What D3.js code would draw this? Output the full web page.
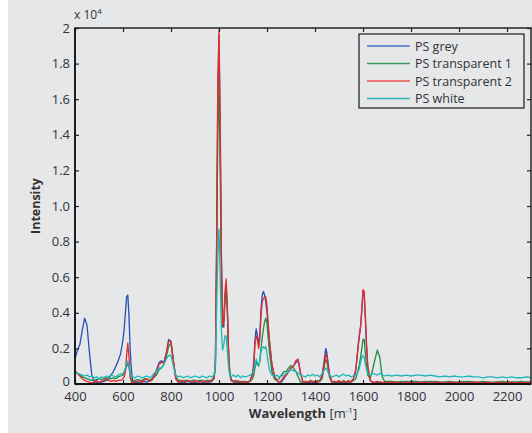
<!DOCTYPE html>
<html><head><meta charset="utf-8">
<script src="https://cdn.jsdelivr.net/npm/d3@7"></script>
<style>
html,body{margin:0;padding:0;background:#fff;}
svg{display:block;font-family:"Open Sans",sans-serif;}
</style></head><body>
<svg id="c" width="532" height="433"></svg>
<script>
// Wavenumber grid (shared by all series)
const wavenumbers = [
400,410,420,430,440,450,460,470,480,490,500,510,520,530,540,550,560,570,580,590,
600,605,610,615,620,625,630,635,640,
650,660,670,680,690,700,710,720,730,740,750,760,770,780,790,800,810,820,830,840,850,860,870,880,890,900,910,920,930,940,950,960,970,980,
985,990,995,1000,1005,1010,1015,1020,1025,1030,1035,1040,1045,1050,
1060,1070,1080,1090,1100,1110,1120,1130,1140,
1145,1150,1155,1160,1165,1170,1175,1180,1185,1190,1195,1200,1205,1210,
1220,1230,1240,1250,1260,1270,1280,1290,1300,1310,1320,1330,1340,1350,1360,1370,1380,1390,1400,1410,1420,1430,1440,1445,1450,1460,1470,1480,1490,1500,1510,1520,1530,1540,1550,1560,1570,
1580,1585,1590,1595,1600,1605,1610,1615,1620,
1630,1640,1650,1660,1670,1680,1690,1700,
1720,1740,1760,1780,1800,1820,1840,1860,1880,1900,1920,1940,1960,1980,2000,2020,2040,2060,2080,2100,2120,2140,2160,2180,2200,2220,2240,2260,2280,2300
];
// Intensities in units of 10^4
const psGrey = [
0.14,0.19,0.22,0.30,0.37,0.33,0.18,0.05,0.01,0.01,0.005,0.01,0.015,0.02,0.03,0.05,0.07,0.10,0.13,0.17,
0.25,0.31,0.40,0.49,0.50,0.38,0.19,0.08,0.02,
0.01,0.005,0.01,0.01,0.015,0.01,0.02,0.03,0.05,0.08,0.12,0.13,0.12,0.17,0.25,0.24,0.12,0.03,0.01,0.01,0.005,0.01,0.015,0.01,0.005,0.01,0.01,0.015,0.01,0.005,0.01,0.01,0.015,0.03,
0.12,0.75,1.62,1.96,1.42,0.72,0.34,0.32,0.49,0.55,0.40,0.17,0.06,0.03,
0.01,0.01,0.005,0.01,0.01,0.005,0.01,0.02,0.06,
0.13,0.25,0.31,0.27,0.22,0.28,0.42,0.50,0.52,0.50,0.46,0.40,0.32,0.24,
0.11,0.05,0.02,0.01,0.01,0.03,0.05,0.07,0.09,0.10,0.12,0.13,0.06,0.01,0.01,0.005,0.01,0.01,0.005,0.01,0.015,0.05,0.15,0.20,0.17,0.06,0.01,0.01,0.005,0.01,0.01,0.005,0.01,0.01,0.015,0.03,0.08,
0.21,0.27,0.32,0.41,0.52,0.50,0.36,0.20,0.09,
0.02,0.01,0.005,0.01,0.01,0.005,0.01,0.01,
0.01,0.005,0.01,0.015,0.01,0.005,0.01,0.01,0.015,0.01,0.005,0.01,0.01,0.005,0.01,0.01,0.015,0.01,0.005,0.01,0.01,0.005,0.01,0.01,0.005,0.01,0.01,0.005,0.01,0.01
];
const psTransparent1 = [
0.07,0.06,0.05,0.04,0.035,0.03,0.025,0.02,0.02,0.025,0.03,0.025,0.03,0.035,0.03,0.03,0.035,0.03,0.04,0.045,
0.05,0.06,0.08,0.10,0.12,0.09,0.05,0.02,0.015,
0.02,0.025,0.02,0.02,0.03,0.025,0.02,0.03,0.04,0.05,0.08,0.09,0.11,0.15,0.21,0.23,0.13,0.04,0.02,0.02,0.015,0.02,0.02,0.015,0.02,0.02,0.015,0.02,0.02,0.015,0.02,0.02,0.02,0.04,
0.10,0.65,1.40,1.70,1.20,0.60,0.32,0.36,0.48,0.52,0.40,0.17,0.06,0.02,
0.015,0.02,0.01,0.015,0.01,0.015,0.01,0.015,0.03,
0.05,0.09,0.12,0.11,0.10,0.13,0.20,0.26,0.31,0.35,0.37,0.34,0.26,0.18,
0.07,0.03,0.02,0.03,0.05,0.07,0.07,0.09,0.105,0.09,0.07,0.04,0.01,0.01,0.015,0.01,0.02,0.015,0.01,0.02,0.015,0.03,0.11,0.14,0.12,0.04,0.01,0.015,0.01,0.015,0.01,0.02,0.01,0.015,0.01,0.02,0.03,
0.08,0.11,0.15,0.20,0.25,0.25,0.17,0.10,0.05,
0.03,0.08,0.14,0.19,0.15,0.04,0.015,0.015,
0.015,0.01,0.015,0.01,0.015,0.015,0.01,0.015,0.01,0.015,0.01,0.01,0.015,0.01,0.01,0.015,0.01,0.01,0.01,0.015,0.01,0.01,0.01,0.015,0.01,0.01,0.01,0.015,0.01,0.01
];
const psTransparent2 = [
0.075,0.06,0.045,0.03,0.02,0.015,0.01,0.005,0.01,0.02,0.01,0.015,0.02,0.03,0.02,0.015,0.02,0.015,0.02,0.02,
0.03,0.04,0.07,0.16,0.23,0.15,0.04,0.01,0.005,
0.01,0.015,0.02,0.01,0.025,0.03,0.015,0.02,0.04,0.07,0.11,0.12,0.12,0.17,0.24,0.24,0.13,0.03,0.01,0.015,0.02,0.01,0.02,0.015,0.01,0.02,0.015,0.01,0.02,0.015,0.01,0.015,0.02,0.04,
0.13,0.80,1.70,1.99,1.48,0.72,0.33,0.36,0.52,0.59,0.43,0.18,0.06,0.02,
0.015,0.01,0.02,0.01,0.015,0.01,0.01,0.02,0.05,
0.10,0.22,0.27,0.25,0.20,0.25,0.38,0.46,0.48,0.49,0.49,0.44,0.34,0.25,
0.12,0.05,0.02,0.01,0.02,0.04,0.05,0.07,0.09,0.10,0.13,0.14,0.06,0.01,0.015,0.01,0.02,0.01,0.015,0.01,0.02,0.04,0.13,0.17,0.15,0.05,0.01,0.015,0.01,0.02,0.01,0.015,0.01,0.02,0.01,0.03,0.08,
0.22,0.28,0.33,0.42,0.53,0.52,0.38,0.22,0.10,
0.02,0.01,0.01,0.015,0.01,0.01,0.005,0.01,
0.01,0.01,0.005,0.01,0.01,0.005,0.01,0.01,0.005,0.01,0.01,0.005,0.01,0.01,0.005,0.01,0.005,0.01,0.01,0.005,0.01,0.005,0.01,0.005,0.01,0.01,0.005,0.01,0.005,0.01
];
const psWhite = [
0.065,0.06,0.055,0.05,0.045,0.05,0.04,0.045,0.035,0.04,0.03,0.04,0.035,0.045,0.04,0.05,0.045,0.04,0.05,0.055,
0.06,0.07,0.09,0.11,0.13,0.10,0.06,0.045,0.04,
0.035,0.045,0.04,0.035,0.04,0.045,0.035,0.045,0.06,0.07,0.09,0.09,0.11,0.14,0.16,0.16,0.10,0.05,0.04,0.045,0.035,0.04,0.045,0.035,0.04,0.045,0.04,0.035,0.045,0.04,0.035,0.045,0.04,0.05,
0.10,0.40,0.72,0.87,0.60,0.30,0.19,0.22,0.27,0.27,0.18,0.09,0.05,0.04,
0.05,0.04,0.05,0.035,0.045,0.04,0.045,0.05,0.06,
0.07,0.11,0.14,0.12,0.10,0.13,0.18,0.20,0.21,0.20,0.21,0.17,0.12,0.08,
0.05,0.045,0.05,0.04,0.045,0.05,0.06,0.07,0.08,0.075,0.07,0.06,0.05,0.045,0.04,0.05,0.045,0.055,0.045,0.05,0.04,0.06,0.08,0.09,0.08,0.05,0.04,0.045,0.05,0.04,0.05,0.055,0.045,0.05,0.04,0.045,0.05,
0.07,0.09,0.12,0.15,0.16,0.15,0.11,0.08,0.06,
0.05,0.06,0.055,0.05,0.06,0.05,0.045,0.05,
0.045,0.05,0.045,0.05,0.045,0.05,0.05,0.045,0.05,0.045,0.04,0.045,0.04,0.045,0.04,0.04,0.045,0.04,0.04,0.035,0.04,0.04,0.035,0.04,0.035,0.04,0.035,0.035,0.04,0.035
];
const seriesNames = ["PS grey","PS transparent 1","PS transparent 2","PS white"];
const seriesColors = ["#2450b8","#1e8c44","#e82a2a","#1fb8b8"];
const legendColors = ["#4a72c8","#3f9e62","#f05050","#30b4b4"];
const xTicks = [400,600,800,1000,1200,1400,1600,1800,2000,2200];
const xTickLabels = ["400","600","800","1000","1200","1400","1600","1800","2000","2200"];
const yTicks = [0,0.2,0.4,0.6,0.8,1.0,1.2,1.4,1.6,1.8,2];
const yTickLabels = ["0","0.2","0.4","0.6","0.8","1.0","1.2","1.4","1.6","1.8","2"];

const seriesValues = [psGrey, psTransparent1, psTransparent2, psWhite];

const svg = d3.select("#c");
const W = 532, H = 433;
const L = 75, R = 531, T = 28, B = 384;
svg.append("rect").attr("x",8).attr("y",0).attr("width",W-8).attr("height",H).attr("fill","#e6e7e9");

const x = d3.scaleLinear().domain([400,2300]).range([L,R]);
const y = d3.scaleLinear().domain([0,2]).range([B,T]);

svg.append("defs").append("clipPath").attr("id","clip")
  .append("rect").attr("x",L).attr("y",T).attr("width",R-L).attr("height",B-T);

const line = d3.line().x(d=>x(d[0])).y(d=>y(d[1]));
const g = svg.append("g").attr("clip-path","url(#clip)");
seriesValues.forEach((vals,i)=>{
  const pts = wavenumbers.map((w,j)=>[w, vals[j]]);
  g.append("path").datum(pts).attr("d",line).attr("fill","none")
    .attr("stroke",seriesColors[i]).attr("stroke-width",1.3).attr("stroke-linejoin","round");
});

const tc = "#333";
function styleAxis(sel, hideText){
  sel.select(".domain").remove();
  sel.selectAll(".tick line").attr("stroke","#222").attr("stroke-width",1.2);
  sel.selectAll(".tick text").attr("fill",tc).style("font-size","13px").style("font-family","'Open Sans',sans-serif");
  if(hideText) sel.selectAll(".tick text").remove();
}
const xb = svg.append("g").attr("transform",`translate(0,${B})`)
  .call(d3.axisBottom(x).tickValues(xTicks).tickFormat((d,i)=>xTickLabels[i]).tickSizeInner(-4).tickSizeOuter(0).tickPadding(8));
styleAxis(xb,false);
const xt = svg.append("g").attr("transform",`translate(0,${T})`)
  .call(d3.axisTop(x).tickValues(xTicks).tickSizeInner(-4).tickSizeOuter(0));
styleAxis(xt,true);
const yl = svg.append("g").attr("transform",`translate(${L},0)`)
  .call(d3.axisLeft(y).tickValues(yTicks).tickFormat((d,i)=>yTickLabels[i]).tickSizeInner(-4).tickSizeOuter(0).tickPadding(5));
styleAxis(yl,false);
yl.selectAll(".tick text").filter((d)=>d===0).attr("dy","0.1em");
const yr = svg.append("g").attr("transform",`translate(${R},0)`)
  .call(d3.axisRight(y).tickValues(yTicks).tickSizeInner(-4).tickSizeOuter(0));
styleAxis(yr,true);

// frame
svg.append("rect").attr("x",L).attr("y",T).attr("width",R-L).attr("height",B-T)
  .attr("fill","none").attr("stroke","#1a1a1a").attr("stroke-width",1.4);
svg.append("line").attr("x1",L).attr("x2",R).attr("y1",B).attr("y2",B).attr("stroke","#111").attr("stroke-width",2);
svg.append("line").attr("x1",L).attr("x2",L).attr("y1",T).attr("y2",B).attr("stroke","#111").attr("stroke-width",1.6);

// exponent
const ex = svg.append("text").attr("x",74).attr("y",19).attr("fill",tc).style("font-size","12px");
ex.append("tspan").text("x 10");
ex.append("tspan").attr("dy",-5).style("font-size","8px").text("4");

// axis labels
svg.append("text").attr("transform",`translate(40,${(T+B)/2}) rotate(-90)`).attr("text-anchor","middle")
  .attr("fill",tc).style("font-size","12.5px").style("font-weight","bold").text("Intensity");
const xl = svg.append("text").attr("x",(L+R)/2).attr("y",418).attr("text-anchor","middle").attr("fill",tc).style("font-size","13px");
xl.append("tspan").style("font-weight","bold").text("Wavelength ");
xl.append("tspan").text("[m");
xl.append("tspan").attr("dy",-5).style("font-size","8px").text("-1");
xl.append("tspan").attr("dy",5).text("]");

// legend
const lg = svg.append("g");
lg.append("rect").attr("x",359).attr("y",34).attr("width",165).attr("height",74)
  .attr("fill","#e6e7e9").attr("stroke","#1a1a1a").attr("stroke-width",1.2);
seriesNames.forEach((n,i)=>{
  const cy = 46 + i*17.5;
  lg.append("line").attr("x1",367).attr("x2",410).attr("y1",cy).attr("y2",cy).attr("stroke",legendColors[i]).attr("stroke-width",1.3);
  lg.append("text").attr("x",415).attr("y",cy+4.5).attr("fill",tc).style("font-size","12.5px").text(n);
});
</script>
</body></html>
